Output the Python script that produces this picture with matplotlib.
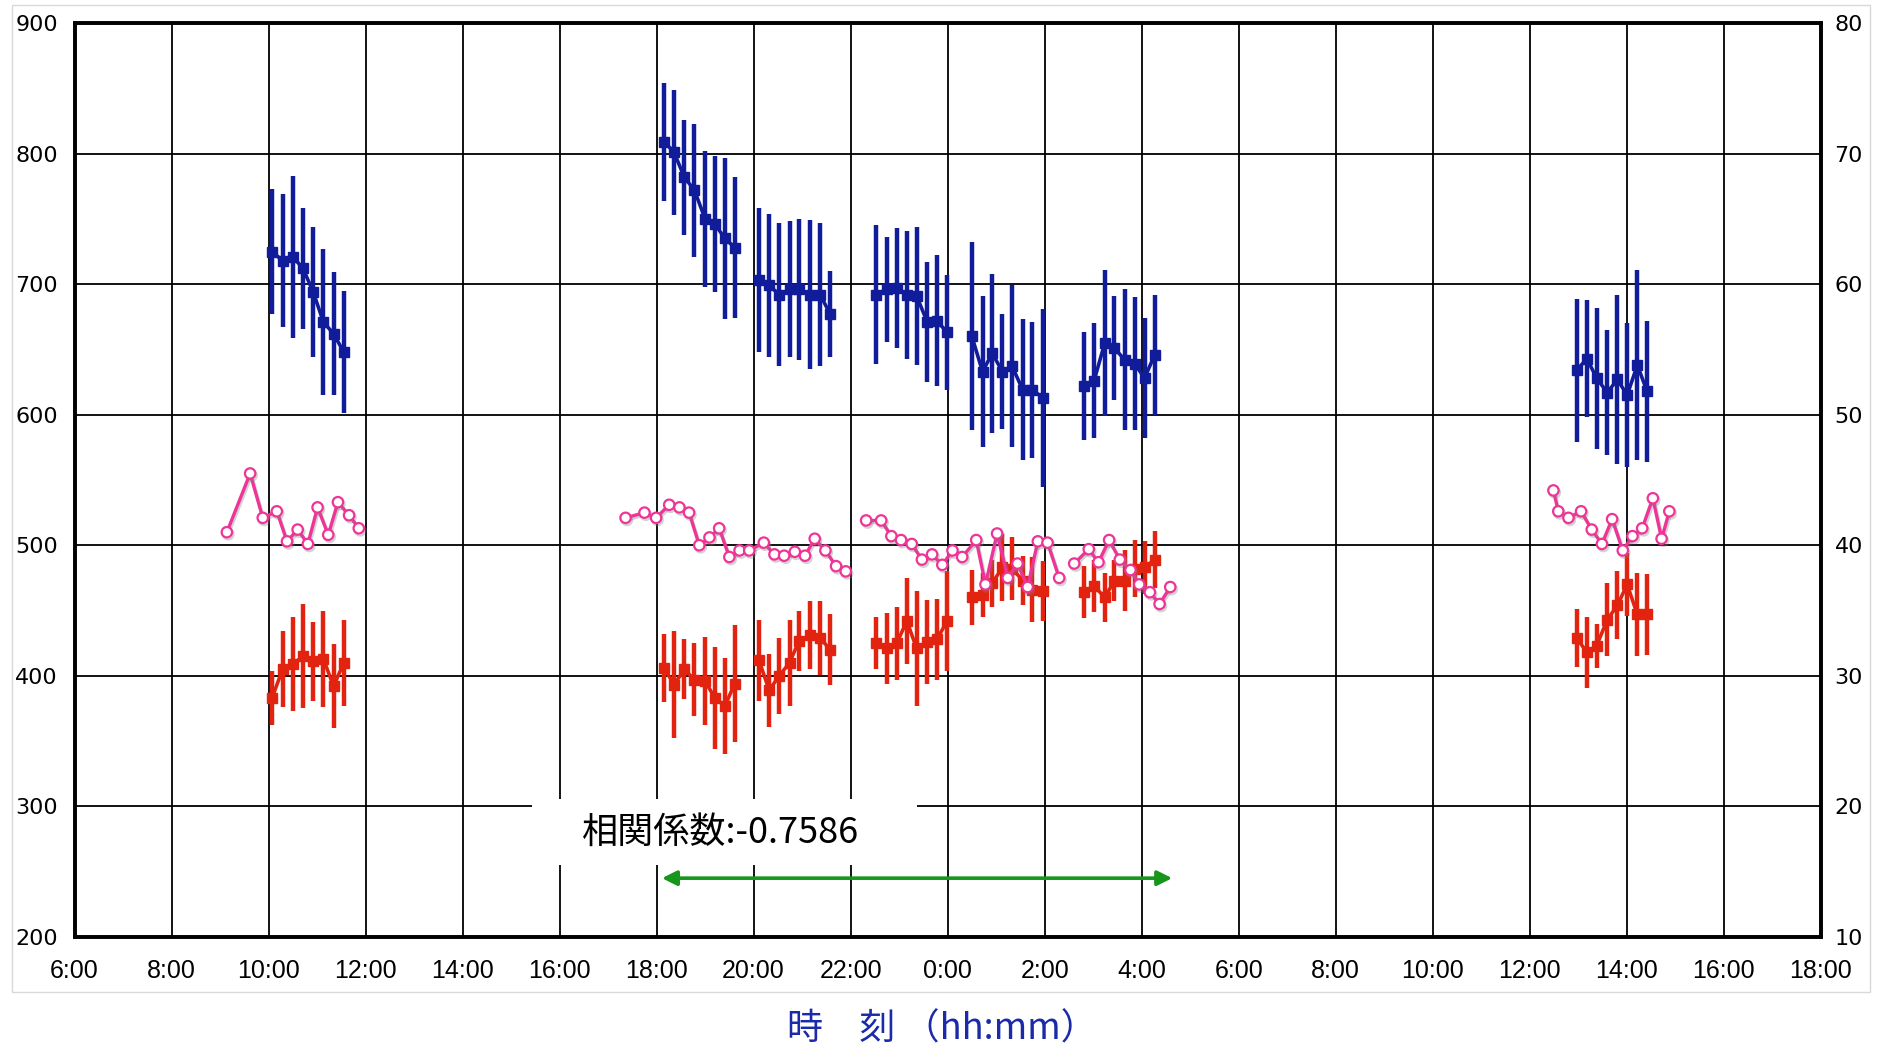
import numpy as np
import matplotlib
matplotlib.use("Agg")
import matplotlib.pyplot as plt
from matplotlib.patches import Rectangle
import matplotlib.patheffects as pe

plt.rcParams['font.family'] = ['DejaVu Sans', 'Noto Sans CJK JP']

# times in hours counted from 0:00 of day 1 (24 = 0:00 of day 2)
blue_red_times = [
    [10.07, 10.29, 10.50, 10.71, 10.92, 11.13, 11.34, 11.55],
    [18.16, 18.36, 18.57, 18.78, 19.00, 19.20, 19.41, 19.61],
    [20.11, 20.32, 20.53, 20.74, 20.94, 21.16, 21.37, 21.58],
    [22.52, 22.74, 22.95, 23.16, 23.36, 23.58, 23.78, 23.99],
    [24.50, 24.72, 24.92, 25.13, 25.33, 25.55, 25.75, 25.96],
    [26.82, 27.02, 27.24, 27.44, 27.65, 27.86, 28.06, 28.27],
    [36.97, 37.18, 37.38, 37.60, 37.81, 38.01, 38.22, 38.42],
]

# blue series (left axis)
blue_vals = [
    [725, 718, 721, 712, 694, 671, 662, 648],
    [809, 801, 782, 772, 750, 746, 735, 728],
    [703, 699, 692, 696, 696, 692, 692, 677],
    [692, 696, 697, 692, 691, 671, 672, 663],
    [660, 633, 647, 633, 637, 619, 619, 613],
    [622, 626, 655, 651, 642, 639, 628, 646],
    [634, 643, 628, 617, 627, 615, 638, 618],
]
blue_err = [
    [48, 51, 62, 46, 50, 56, 47, 47],
    [45, 48, 44, 51, 52, 52, 62, 54],
    [55, 55, 55, 52, 54, 57, 55, 33],
    [53, 40, 46, 49, 53, 46, 50, 44],
    [72, 58, 61, 44, 62, 54, 52, 68],
    [41, 44, 56, 40, 54, 51, 46, 46],
    [55, 45, 54, 48, 65, 55, 73, 54],
]

# red series (right axis)
red_vals = [
    [28.3, 30.5, 30.9, 31.5, 31.1, 31.3, 29.2, 31.0],
    [30.6, 29.3, 30.5, 29.7, 29.6, 28.3, 27.7, 29.4],
    [31.2, 28.9, 30.0, 31.0, 32.7, 33.1, 32.9, 32.0],
    [32.5, 32.1, 32.5, 34.2, 32.1, 32.6, 32.8, 34.2],
    [36.0, 36.2, 37.1, 38.3, 38.2, 37.3, 36.6, 36.5],
    [36.4, 36.9, 36.0, 37.3, 37.3, 38.2, 38.3, 38.9],
    [32.9, 31.8, 32.3, 34.3, 35.4, 37.0, 34.7, 34.7],
]
red_err = [
    [2.1, 2.9, 3.6, 4.0, 3.0, 3.7, 3.2, 3.3],
    [2.6, 4.1, 2.3, 2.8, 3.4, 3.9, 3.7, 4.5],
    [3.1, 2.8, 2.9, 3.3, 2.3, 2.6, 2.8, 2.7],
    [2.0, 2.7, 2.8, 3.3, 4.4, 3.2, 3.1, 3.8],
    [2.1, 1.7, 1.8, 2.6, 2.4, 1.9, 2.5, 2.3],
    [2.0, 2.0, 1.9, 1.6, 2.3, 2.2, 2.0, 2.2],
    [2.2, 2.7, 1.7, 2.8, 2.6, 2.4, 3.2, 3.1],
]

# pink series (right axis)
pink_times = [
    [9.14, 9.62, 9.88, 10.17, 10.38, 10.60, 10.81, 11.01, 11.23, 11.43, 11.66, 11.86],
    [17.36, 17.75, 17.99, 18.26, 18.47, 18.67, 18.88, 19.09, 19.29, 19.50, 19.71,
     19.91, 20.21, 20.43, 20.63, 20.85, 21.06, 21.26, 21.48, 21.70, 21.90],
    [22.32, 22.63, 22.84, 23.04, 23.26, 23.47, 23.68, 23.89, 24.10, 24.30, 24.59,
     24.78, 25.02, 25.24, 25.44, 25.65, 25.86, 26.06, 26.30],
    [26.61, 26.91, 27.11, 27.33, 27.55, 27.77, 27.95, 28.17, 28.37, 28.59],
    [36.49, 36.59, 36.80, 37.06, 37.28, 37.49, 37.70, 37.92, 38.12, 38.32, 38.54, 38.72, 38.88],
]
pink_vals = [
    [41.0, 45.5, 42.1, 42.6, 40.3, 41.2, 40.1, 42.9, 40.8, 43.3, 42.3, 41.3],
    [42.1, 42.5, 42.1, 43.1, 42.9, 42.5, 40.0, 40.6, 41.3, 39.1, 39.6,
     39.6, 40.2, 39.3, 39.2, 39.5, 39.2, 40.5, 39.6, 38.4, 38.0],
    [41.9, 41.9, 40.7, 40.4, 40.1, 38.9, 39.3, 38.5, 39.6, 39.1, 40.4,
     37.0, 40.9, 37.5, 38.6, 36.8, 40.3, 40.2, 37.5],
    [38.6, 39.7, 38.7, 40.4, 38.9, 38.1, 37.0, 36.4, 35.5, 36.8],
    [44.2, 42.6, 42.1, 42.6, 41.2, 40.1, 42.0, 39.6, 40.7, 41.3, 43.6, 40.5, 42.6],
]

x_ticks = list(range(6, 43, 2))
x_labels = ["%d:00" % (h % 24) for h in x_ticks]
corr_text = "相関係数:-0.7586"
arrow_span = (18.11, 28.63)

BLUE = "#101c9a"
RED = "#e2230f"
PINK = "#ee3597"
GREEN = "#16961a"

fig = plt.figure(figsize=(18.83, 10.48), dpi=100)
ax = fig.add_axes([0.0396, 0.106, 0.9273, 0.872])
ax2 = ax.twinx()

ax.set_xlim(6, 42)
ax.set_ylim(200, 900)
ax2.set_ylim(10, 80)
ax.set_xticks(x_ticks)
ax.set_xticklabels(x_labels, family='Liberation Sans')
ax.set_yticks(range(200, 901, 100))
ax2.set_yticks(range(10, 81, 10))
ax.grid(True, color='black', lw=1.3)
ax.set_axisbelow(True)
ax.tick_params(axis='x', length=0, pad=16, labelsize=18)
ax.tick_params(axis='y', length=0, pad=12, labelsize=16)
ax2.tick_params(axis='y', length=0, pad=10, labelsize=16)
for a in (ax, ax2):
    for s in a.spines.values():
        s.set_linewidth(2.6)
        s.set_color('black')

# white box behind the correlation text
ax.add_patch(Rectangle((15.43, 255), 7.93, 51, facecolor='white', edgecolor='none', zorder=1.5))
ax.text(16.47, 280, corr_text, fontsize=26, va='center', family=['Noto Sans CJK JP'], zorder=3)
ax.annotate('', xy=(arrow_span[1], 245), xytext=(arrow_span[0], 245),
            arrowprops=dict(arrowstyle='<|-|>', color=GREEN, lw=2.6, mutation_scale=22,
                            shrinkA=0, shrinkB=0), zorder=3)

for t, v, e in zip(blue_red_times, blue_vals, blue_err):
    ax.errorbar(t, v, yerr=e, fmt='s-', color=BLUE, ms=7.5, lw=2.6,
                elinewidth=3.2, capsize=0, zorder=4)

for t, v, e in zip(blue_red_times, red_vals, red_err):
    ax2.errorbar(t, v, yerr=e, fmt='s-', color=RED, ms=7.5, lw=2.6,
                 elinewidth=3.2, capsize=0, zorder=4)

shadow = [pe.SimpleLineShadow(offset=(1, -1.5), shadow_color='gray', alpha=0.35), pe.Normal()]
for t, v in zip(pink_times, pink_vals):
    ax2.plot(t, v, '-o', color=PINK, lw=2.4, ms=7.5, mfc='white', mec=PINK, mew=1.6,
             zorder=5, path_effects=shadow)

fig.text(0.5, 0.018, "時　刻 （hh:mm）", color="#1a2aa8", fontsize=26,
         ha='center', va='center', family=['Noto Sans CJK JP'])

fig.add_artist(Rectangle((0.0064, 0.0534), 0.9867, 0.9418, transform=fig.transFigure,
                         fill=False, edgecolor='#d9d9d9', lw=1))

fig.savefig("out.png", dpi=100)
